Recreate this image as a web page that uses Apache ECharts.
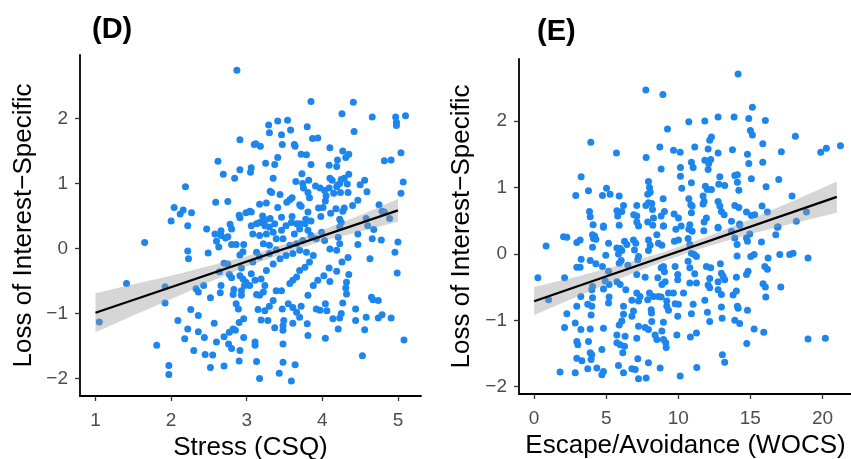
<!doctype html>
<html>
<head>
    <meta charset="utf-8">
    <script src="https://cdn.jsdelivr.net/npm/echarts@6/dist/echarts.min.js"></script>
</head>
<body style="margin: 0">
    <div id="container" style="width: 851px; height: 459px"></div>
    <script type="text/javascript">
        // panel D: stress (CSQ) vs loss of interest
        var stressPoints = [
            [2.87,2.74],[2.91,1.67],[3.10,1.60],[2.62,1.34],[2.91,1.21],[3.06,1.24],[3.05,1.17],[2.69,1.14],[2.84,1.08],[2.19,0.95],
            [2.59,0.71],[2.75,0.72],[2.04,0.63],[2.16,0.59],[2.12,0.53],[2.27,0.55],[2.00,0.42],[2.90,0.51],[2.91,0.47],[2.99,0.55],
            [3.04,0.57],[2.78,0.37],[2.22,0.35],
            [3.85,2.26],[4.41,2.25],[4.26,2.07],[4.66,2.02],[4.97,2.02],[4.98,1.94],[4.98,1.89],[5.10,2.04],[3.29,1.90],[3.41,1.96],
            [3.54,1.97],[3.30,1.78],[3.46,1.75],[3.58,1.82],[3.80,1.87],[4.42,1.80],[3.87,1.69],[3.94,1.70],[3.12,1.61],[3.18,1.57],
            [3.47,1.60],[3.63,1.60],[3.64,1.57],[4.10,1.55],[4.27,1.50],[4.35,1.45],[4.31,1.40],[3.72,1.45],[3.79,1.44],[3.41,1.40],
            [5.04,1.47],[4.82,1.35],[4.91,1.36],[4.20,1.36],[4.09,1.28],[4.19,1.26],[3.25,1.31],[3.37,1.29],[3.85,1.29],[3.73,1.15],
            [4.35,1.14],[3.35,1.08],[4.10,1.08],[4.13,1.05],[4.25,1.06],[4.29,1.08],[4.23,1.00],[4.20,0.97],[3.65,1.03],[3.74,1.00],
            [3.82,1.05],[3.75,0.93],[3.91,0.96],[3.97,0.93],[4.33,0.99],[4.34,0.86],[4.50,0.98],[4.56,1.05],[5.07,1.02],[5.04,0.85],
            [3.31,0.88],[3.33,0.86],[3.44,0.83],[3.81,0.86],[3.83,0.78],[4.03,0.89],[4.05,0.81],[4.04,0.73],[4.09,0.93],[4.19,0.95],
            [4.24,0.86],[4.15,0.85],[4.59,0.87],[3.17,0.68],[3.26,0.70],[3.41,0.63],[3.53,0.71],[3.57,0.75],[3.60,0.78],[3.70,0.67],
            [3.72,0.65],[3.95,0.62],[4.01,0.63],[4.18,0.61],[4.11,0.54],[4.29,0.62],[4.27,0.57],[4.40,0.66],[4.47,0.74],[4.75,0.67],
            [3.06,0.56],[3.21,0.50],[3.25,0.44],[3.17,0.40],[3.31,0.46],[3.46,0.48],[3.60,0.49],[3.78,0.45],[3.85,0.42],[3.81,0.56],
            [3.98,0.49],[4.23,0.45],[4.58,0.46],[4.79,0.57],[4.82,0.56],[4.89,0.46],[3.66,0.38],[3.70,0.38],
            [2.47,0.30],[1.65,0.09],[2.22,-0.04],[2.23,-0.16],[2.49,-0.07],[2.60,0.11],[2.63,0.02],[2.58,0.22],[2.66,0.27],[2.66,0.20],
            [2.72,0.16],[2.75,0.18],[2.80,0.30],[2.80,0.06],[2.86,0.06],[2.96,0.06],[2.95,-0.05],[2.91,-0.10],[3.06,0.35],[1.41,-0.54],
            [1.92,-0.59],[1.92,-0.84],[1.05,-1.13],[2.33,-0.62],[2.36,-0.67],[2.43,-0.57],[2.52,-0.76],[2.65,-0.68],[2.66,-0.57],[2.70,-0.23],
            [2.75,-0.24],[2.64,-0.36],[2.77,-0.40],[2.80,-0.45],[2.83,-0.63],[2.82,-0.71],[2.91,-0.42],[2.95,-0.47],[2.99,-0.52],[2.93,-0.30],
            [3.06,-0.39],[3.04,-0.57],[2.97,-0.57],[2.93,-0.65],[2.93,-0.72],[2.86,-0.85],[2.89,-0.93],[2.96,-1.08],[2.90,-1.14],[2.26,-0.94],
            [2.36,-1.03],[2.09,-1.11],[2.22,-1.24],[2.36,-1.28],[2.57,-1.15],[2.18,-1.39],[2.44,-1.37],[2.70,-1.36],[2.77,-1.29],[2.82,-1.24],
            [2.85,-1.26],[2.60,-1.44],[2.76,-1.47],[2.80,-1.54],[2.96,-1.37],[2.91,-1.57],[1.81,-1.49],[2.30,-1.57],[2.45,-1.63],[2.55,-1.64],
            [1.97,-1.80],[1.97,-1.94],[2.52,-1.83],[2.70,-1.81],[2.90,-1.73],
            [3.13,0.38],[3.19,0.40],[3.24,0.35],[3.30,0.33],[3.37,0.38],[3.08,0.22],[3.17,0.20],[3.26,0.22],[3.35,0.25],[3.39,0.15],
            [3.22,0.07],[3.30,0.05],[3.46,0.28],[3.52,0.35],[3.59,0.40],[3.63,0.22],[3.70,0.30],[3.77,0.38],[3.81,0.28],[3.85,0.20],
            [3.74,0.12],[3.66,0.07],[3.57,0.05],[3.48,0.15],[3.92,0.15],[3.99,0.25],[4.03,0.12],[4.10,-0.01],[4.19,-0.03],[4.23,0.07],
            [4.21,0.17],[4.23,0.33],[4.25,0.40],[4.47,0.22],[4.47,0.06],[4.60,0.35],[4.66,0.15],[4.68,0.29],[4.78,0.13],[5.00,0.10],
            [4.96,-0.06],[4.99,-0.38],[4.63,-0.16],[4.34,-0.14],[4.26,-0.21],[4.19,-0.35],[4.09,-0.30],[4.02,-0.42],[4.10,-0.51],[3.94,-0.49],
            [3.88,-0.57],[4.35,-0.40],[4.32,-0.52],[4.31,-0.61],[4.32,-0.70],[4.27,-0.84],[4.25,-1.00],[4.23,-1.07],[4.14,-1.08],[4.06,-0.96],
            [4.04,-0.85],[3.97,-0.95],[3.92,-0.93],[3.81,-0.72],[3.72,-0.89],[3.70,-1.06],[3.61,-1.15],[3.49,-1.11],[3.48,-1.26],[3.37,-1.22],
            [3.28,-1.11],[3.19,-1.10],[3.24,-0.96],[3.15,-0.94],[3.30,-0.89],[3.35,-0.80],[3.47,-0.93],[3.55,-0.85],[3.61,-0.91],[3.66,-0.98],
            [3.13,-0.71],[3.22,-0.67],[3.24,-0.57],[3.17,-0.72],[3.39,-0.65],[3.46,-0.65],[3.57,-0.54],[3.61,-0.49],[3.66,-0.44],[3.70,-0.34],
            [3.77,-0.29],[3.83,-0.21],[3.88,-0.11],[3.79,-0.06],[3.70,-0.03],[3.61,-0.08],[3.52,-0.11],[3.44,-0.16],[3.35,-0.24],[3.26,-0.34],
            [3.19,-0.47],[3.11,-0.49],[3.08,-0.21],[3.13,-0.06],[3.17,-0.13],[3.30,-0.08],[3.39,-0.02],[4.44,-0.93],[4.44,-1.11],[4.58,-1.06],
            [4.56,-1.25],[4.65,-0.75],[4.67,-0.79],[4.74,-0.80],[4.74,-1.07],[4.79,-1.02],[4.91,-1.07],[5.08,-1.41],[4.53,-1.65],[4.21,-1.24],
            [4.04,-1.38],[3.81,-1.34],[3.80,-1.16],[3.11,-1.44],[3.11,-1.49],[3.13,-1.74],[3.17,-2.00],[3.48,-1.47],[3.48,-1.75],[3.64,-1.79],
            [3.43,-1.92],[3.59,-2.04],[3.48,-1.19]
        ];
        var stressFitX = [1.0, 5.0];
        var stressFitY = [-0.99, 0.585];
        var stressBandX = [1.0, 1.5, 2.0, 2.5, 3.0, 3.5, 4.0, 4.5, 5.0];
        var stressBandLo = [-1.29, -1.03, -0.78, -0.52, -0.28, -0.075, 0.11, 0.26, 0.41];
        var stressBandHi = [-0.69, -0.55, -0.42, -0.27, -0.12, 0.065, 0.28, 0.51, 0.76];

        // panel E: escape/avoidance (WOCS) vs loss of interest
        var escapePoints = [
            [7.75,2.47],[8.93,2.40],[9.25,1.88],[3.93,1.68],[5.71,1.52],[7.77,1.45],[8.72,1.61],[9.67,1.56],[10.13,1.53],[8.81,1.28],
            [10.15,1.30],[10.15,1.17],[3.26,1.16],[7.93,1.09],[8.00,1.00],[8.05,0.93],[7.88,0.90],[10.24,0.99],[5.02,0.99],[5.27,0.90],
            [4.74,0.88],[3.77,0.95],[2.89,0.88],[5.90,0.87],[8.95,0.83],[3.84,0.64],[3.89,0.56],[4.09,0.44],[4.81,0.40],[5.90,0.43],
            [5.74,0.65],[5.80,0.57],[6.08,0.64],[6.20,0.73],[7.12,0.73],[6.91,0.59],[7.12,0.57],[7.12,0.48],[7.24,0.42],[7.75,0.73],
            [7.93,0.77],[8.16,0.76],[8.21,0.67],[7.88,0.48],[8.23,0.43],[8.28,0.54],[8.81,0.57],[9.04,0.64],[8.97,0.42],[9.71,0.60],
            [10.01,0.54],[10.20,0.42],
            [14.15,2.71],[15.14,2.21],[10.73,1.99],[11.84,2.00],[12.76,2.06],[13.87,2.06],[14.89,2.04],[16.04,2.01],[15.00,1.86],[15.14,1.79],
            [12.30,1.76],[12.18,1.71],[18.12,1.77],[11.14,1.61],[12.07,1.58],[13.76,1.57],[15.86,1.66],[12.76,1.52],[14.80,1.50],[17.15,1.54],
            [19.88,1.53],[20.27,1.59],[21.25,1.63],[10.91,1.38],[11.03,1.30],[11.84,1.41],[12.25,1.42],[12.11,1.36],[12.07,1.27],[14.89,1.36],
            [15.86,1.38],[12.88,1.16],[13.92,1.18],[14.10,1.19],[15.07,1.13],[16.97,1.12],[10.91,1.07],[11.88,1.02],[12.02,0.97],[12.30,0.97],
            [12.81,1.05],[13.22,1.03],[14.10,1.08],[14.20,0.96],[16.09,1.01],[10.73,0.83],[10.87,0.74],[10.96,0.72],[11.72,0.87],[11.79,0.79],
            [11.72,0.75],[12.76,0.79],[12.88,0.72],[12.99,0.64],[13.18,0.59],[13.92,0.73],[14.20,0.70],[15.81,0.72],[14.73,0.63],[15.07,0.58],
            [15.30,0.59],[10.91,0.62],[10.80,0.44],[11.95,0.54],[11.79,0.48],[12.76,0.40],[13.69,0.49],[17.89,0.87],[16.18,0.63],[18.89,0.63],
            [18.19,0.49],[16.92,0.41],[14.26,0.45],
            [0.83,0.12],[0.26,-0.36],[2.11,-0.36],[1.00,-0.69],[2.04,0.26],[2.27,0.25],[2.96,0.17],[3.19,0.21],[4.05,0.29],[4.12,0.23],
            [4.28,0.22],[4.19,0.27],[4.05,0.10],[4.81,0.42],[5.16,0.16],[4.97,-0.02],[5.74,0.09],[5.97,0.08],[6.08,0.05],[5.85,0.00],
            [6.27,0.19],[6.43,0.14],[6.89,0.21],[7.05,0.16],[6.96,0.06],[7.24,-0.04],[7.19,-0.09],[7.93,0.21],[8.05,0.13],[7.93,0.05],
            [8.51,0.29],[8.62,0.16],[8.86,0.13],[8.97,0.42],[9.83,0.37],[9.73,0.19],[10.01,0.21],[3.26,-0.08],[2.96,-0.20],[3.19,-0.20],
            [3.89,-0.10],[4.28,-0.15],[4.74,-0.19],[5.16,-0.26],[5.90,-0.14],[6.04,-0.10],[6.50,-0.17],[7.12,-0.31],[7.70,-0.35],[8.81,-0.21],
            [8.97,-0.19],[9.04,-0.27],[9.78,-0.19],[9.96,-0.31],[8.58,-0.36],[8.86,-0.46],[9.09,-0.42],[9.96,-0.39],[4.05,-0.49],[4.00,-0.54],
            [4.93,-0.41],[5.20,-0.46],[5.74,-0.42],[5.97,-0.46],[6.36,-0.54],[7.12,-0.59],[7.35,-0.64],[7.24,-0.71],[6.78,-0.70],[8.00,-0.59],
            [8.28,-0.64],[7.88,-0.69],[8.62,-0.64],[8.81,-0.65],[9.32,-0.59],[9.66,-0.59],[10.36,-0.59],[9.20,-0.71],[9.78,-0.75],[10.01,-0.76],
            [3.24,-0.64],[4.05,-0.66],[3.72,-0.76],[4.00,-0.79],[2.96,-0.79],[5.20,-0.65],[5.16,-0.74],[6.20,-0.79],[4.81,-0.53],[2.27,-0.90],
            [3.95,-0.92],[6.20,-0.91],[6.08,-1.01],[5.90,-1.07],[6.89,-0.86],[6.78,-0.94],[8.12,-0.84],[8.14,-0.89],[9.20,-0.79],[9.32,-0.85],
            [9.96,-0.94],[2.85,-1.04],[2.11,-1.11],[3.24,-1.14],[3.89,-1.13],[4.81,-1.12],[7.24,-1.09],[7.70,-1.11],[7.93,-1.14],[8.16,-1.02],
            [8.97,-1.03],[8.86,-1.16],[9.90,-1.22],[5.74,-1.22],[6.31,-1.24],[5.74,-1.34],[5.97,-1.37],[6.27,-1.39],[7.12,-1.27],[8.39,-1.22],
            [8.51,-1.29],[8.97,-1.29],[9.13,-1.34],[9.16,-1.41],[2.96,-1.32],[3.03,-1.37],[3.77,-1.32],[3.89,-1.49],[4.00,-1.52],[4.70,-1.44],
            [6.15,-1.49],[2.96,-1.57],[3.31,-1.61],[3.95,-1.59],[7.19,-1.58],[7.93,-1.64],[4.35,-1.72],[4.81,-1.77],[3.72,-1.73],[5.85,-1.68],
            [6.78,-1.73],[7.01,-1.74],[8.74,-1.72],[1.80,-1.78],[2.85,-1.79],[4.70,-1.82],[6.20,-1.79],[7.24,-1.88],[7.77,-1.87],[10.13,-1.84],
            [10.73,0.37],[10.96,0.34],[10.68,0.23],[11.77,0.35],[12.76,0.39],[14.26,0.43],[13.69,0.34],[13.92,0.24],[14.73,0.24],[14.96,0.30],
            [14.80,0.19],[15.77,0.18],[16.76,0.29],[16.88,0.40],[14.08,0.14],[10.80,0.14],[10.91,0.01],[11.10,-0.01],[11.26,-0.04],[10.68,-0.11],
            [10.80,-0.21],[14.08,-0.03],[15.03,-0.04],[15.26,-0.01],[16.23,-0.06],[17.04,-0.01],[17.73,-0.01],[17.96,0.01],[19.00,-0.06],[11.95,-0.19],
            [12.25,-0.21],[12.92,-0.15],[11.14,-0.30],[12.99,-0.29],[13.11,-0.34],[13.22,-0.39],[14.03,-0.35],[14.84,-0.26],[14.73,-0.31],[16.00,-0.19],
            [16.18,-0.23],[12.18,-0.37],[10.80,-0.44],[11.26,-0.44],[12.07,-0.47],[12.18,-0.51],[12.76,-0.42],[12.76,-0.54],[12.99,-0.61],[15.88,-0.45],
            [16.04,-0.50],[17.11,-0.50],[14.03,-0.56],[13.80,-0.62],[16.07,-0.65],[11.84,-0.70],[11.03,-0.76],[10.91,-0.90],[12.99,-0.80],[14.10,-0.79],
            [14.15,-0.82],[14.80,-0.85],[12.02,-0.88],[12.18,-1.02],[13.04,-0.97],[13.92,-1.00],[14.26,-1.05],[15.26,-1.13],[15.93,-1.18],[11.26,-1.19],
            [10.84,-1.25],[14.75,-1.35],[19.00,-1.28],[20.20,-1.27],[13.06,-1.52],[13.22,-1.63],[11.28,-1.71]
        ];
        var escapeFitX = [0, 21];
        var escapeFitY = [-0.714, 0.859];
        var escapeBandX = [0, 3, 6, 9, 12, 15, 18, 21];
        var escapeBandLo = [-0.92, -0.64, -0.365, -0.11, 0.11, 0.30, 0.46, 0.62];
        var escapeBandHi = [-0.50, -0.34, -0.165, 0.03, 0.26, 0.52, 0.80, 1.09];

        var stressTicks = [1, 2, 3, 4, 5];
        var escapeTicks = [0, 5, 10, 15, 20];
        var lossTicks = [-2, -1, 0, 1, 2];

        var font = 'Liberation Sans, Arial, sans-serif';
        var dom = document.getElementById("container");
        var myChart = echarts.init(dom);

        function minus(v) {
            return String(v).replace('-', '\u2212');
        }

        function makeAxis(idx, min, max, ticks, name, nameGap, labelMargin) {
            return {
                gridIndex: idx,
                type: 'value',
                min: min,
                max: max,
                name: name,
                nameLocation: 'middle',
                nameGap: nameGap,
                nameTextStyle: { fontSize: 26, color: '#000', fontFamily: font },
                axisLine: { onZero: false, lineStyle: { color: '#000', width: 1.8 } },
                axisTick: { customValues: ticks, length: 5, lineStyle: { color: '#333', width: 1.3 } },
                axisLabel: { customValues: ticks, margin: labelMargin, fontSize: 19, color: '#4d4d4d', fontFamily: font, formatter: minus },
                splitLine: { show: false }
            };
        }

        function bandSeries(idx, xs, lo, hi) {
            return {
                type: 'custom',
                xAxisIndex: idx,
                yAxisIndex: idx,
                z: 3,
                silent: true,
                data: xs.map(function (x, i) { return [x, lo[i], hi[i]]; }),
                encode: { x: 0, y: [1, 2] },
                renderItem: function (params, api) {
                    if (params.dataIndex !== 0) return null;
                    var pts = [];
                    for (var i = 0; i < xs.length; i++) pts.push(api.coord([xs[i], hi[i]]));
                    for (var j = xs.length - 1; j >= 0; j--) pts.push(api.coord([xs[j], lo[j]]));
                    return { type: 'polygon', shape: { points: pts }, style: { fill: 'rgba(153,153,153,0.4)' } };
                }
            };
        }

        function fitSeries(idx, xs, ys) {
            return {
                type: 'line',
                xAxisIndex: idx,
                yAxisIndex: idx,
                z: 4,
                showSymbol: false,
                silent: true,
                data: xs.map(function (x, i) { return [x, ys[i]]; }),
                lineStyle: { color: '#000', width: 2.2 }
            };
        }

        function pointSeries(idx, pts) {
            return {
                type: 'scatter',
                xAxisIndex: idx,
                yAxisIndex: idx,
                z: 2,
                symbolSize: 7,
                data: pts,
                itemStyle: { color: '#1C86EE', opacity: 1 }
            };
        }

        var option = {
            animation: false,
            title: [
                { text: '(D)', left: 92, top: 15, padding: 0, textStyle: { fontSize: 29, fontWeight: 'bold', color: '#000', fontFamily: font } },
                { text: '(E)', left: 537, top: 17, padding: 0, textStyle: { fontSize: 29, fontWeight: 'bold', color: '#000', fontFamily: font } }
            ],
            grid: [
                { left: 80, top: 55, width: 341, height: 341, outerBoundsMode: 'none' },
                { left: 519, top: 59, width: 333, height: 335, outerBoundsMode: 'none' }
            ],
            xAxis: [
                makeAxis(0, 0.795, 5.305, stressTicks, 'Stress (CSQ)', 37, 15),
                makeAxis(1, -1.05, 22.05, escapeTicks, 'Escape/Avoidance (WOCS)', 37, 15)
            ],
            yAxis: [
                makeAxis(0, -2.27, 2.975, lossTicks, 'Loss of Interest\u2212Specific', 43, 12),
                makeAxis(1, -2.11, 2.935, lossTicks, 'Loss of Interest\u2212Specific', 44, 12)
            ],
            series: [
                pointSeries(0, stressPoints),
                bandSeries(0, stressBandX, stressBandLo, stressBandHi),
                fitSeries(0, stressFitX, stressFitY),
                pointSeries(1, escapePoints),
                bandSeries(1, escapeBandX, escapeBandLo, escapeBandHi),
                fitSeries(1, escapeFitX, escapeFitY)
            ]
        };
        myChart.setOption(option);
    </script>
</body>
</html>
